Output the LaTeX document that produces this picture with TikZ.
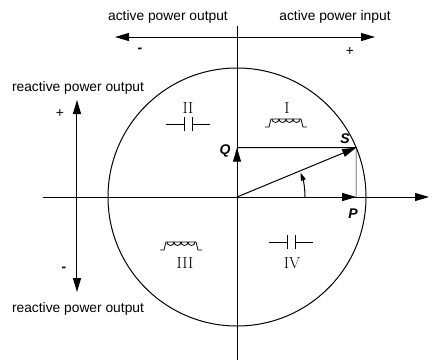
\documentclass[tikz,border=0pt]{standalone}
\usepackage{fontspec}
\setsansfont{Liberation Sans}
\usetikzlibrary{arrows.meta}

\tikzset{
  coil/.pic={
    \draw[line width=0.8pt] (-21,0) -- (-17,0) -- (-15,8) -- (15,8) -- (17,0) -- (21,0);
    \foreach \i in {0,...,3}
      \draw[line width=0.8pt] (-14+7*\i,8) arc[start angle=180,end angle=360,radius=3.5pt];
  },
  cap/.pic={
    \draw[line width=0.8pt] (-22,0) -- (-4,0) (-4,-7) -- (-4,7) (4,-7) -- (4,7) (4,0) -- (22,0);
  }
}

\begin{document}
\begin{tikzpicture}[x=1pt,y=1pt,line width=1pt,
  txt/.style={font=\sffamily\fontsize{13.8}{15}\selectfont},
  vec/.style={font=\sffamily\bfseries\itshape\fontsize{14}{16}\selectfont},
  quad/.style={font=\fontsize{16}{18}\selectfont},
  bigtip/.style={-{Triangle[length=14pt,width=8pt]}},
  bothtip/.style={{Triangle[length=14pt,width=8pt]}-{Triangle[length=14pt,width=8pt]}}]
    \useasboundingbox (-237,-163) rectangle (206,197);

    % Axes and circle
    \coordinate (O) at (0,0);
    \coordinate (ytop) at (0,171);
    \coordinate (ybot) at (0,-163);
    \coordinate (xleft) at (-194,0);
    \coordinate (xright) at (192,0);
    \draw (ytop) -- (ybot);
    \draw[bigtip] (xleft) -- (xright);
    \draw (O) circle[radius=129pt];
    \node[vec, anchor=west] (paxis) at (204,-8) {P};

    % Active power arrow
    \coordinate (aleft) at (-122,160);
    \coordinate (aright) at (138,160);
    \draw[bothtip] (aleft) -- (aright);
    \node[txt] (aout) at (-69,180) {active power output};
    \node[txt] (ain) at (98,180) {active power input};
    \node[txt] (aminus) at (-97,147) {\bfseries -};
    \node[txt] (aplus) at (113,145) {+};

    % Reactive power arrow
    \coordinate (rtop) at (-160,97);
    \coordinate (rbot) at (-160,-95);
    \draw[bothtip] (rbot) -- (rtop);
    \node[txt] (rout1) at (-159,109) {reactive power output};
    \node[txt] (rout2) at (-159,-112) {reactive power output};
    \node[txt] (rplus) at (-177,83) {+};
    \node[txt] (rminus) at (-173,-72) {\bfseries -};

    % Power triangle
    \coordinate (S) at (22.5:129);
    \coordinate (Q) at (0,49.3);
    \coordinate (P) at (119.2,0);
    \draw (Q) -- (S);
    \draw[line width=0.5pt] (S) -- (P);
    \draw[bigtip] (O) -- (Q);
    \draw[bigtip] (O) -- (S);
    \draw[bigtip] (O) -- (P);
    \draw[-{Triangle[length=8pt,width=5pt]}] (68,0) arc[start angle=0,end angle=21,radius=68pt];
    \node[vec] (qlab) at (-12,46) {Q};
    \node[vec] (slab) at (108,58) {S};
    \node[vec] (plab) at (116,-17) {P};

    % Quadrants
    \node[quad] (q1) at (50,89) {I};
    \pic at (49,70) {coil};
    \node[quad] (q2) at (-49,89) {II};
    \pic at (-49,73) {cap};
    \node[quad] (q3) at (-52,-66) {III};
    \pic at (-56,-53) {coil};
    \node[quad] (q4) at (55,-66) {IV};
    \pic at (54,-45) {cap};
\end{tikzpicture}
\end{document}
